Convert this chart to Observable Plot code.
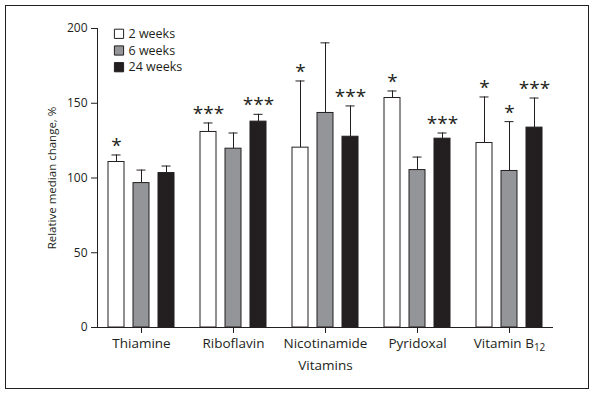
<!DOCTYPE html>
<html>
<head>
<meta charset="utf-8">
<script src="https://cdn.jsdelivr.net/npm/d3@7"></script>
<script src="https://cdn.jsdelivr.net/npm/@observablehq/plot@0.6"></script>
<style>
  body { margin: 0; background: white; }
  #wrap { position: relative; width: 594px; height: 395px; }
  #border { position: absolute; left: 5px; top: 5px; width: 582px; height: 382px; border: 1px solid #231f20; pointer-events: none; }
</style>
</head>
<body>
<div id="wrap"><div id="border"></div></div>
<script>
const categories = ["Thiamine", "Riboflavin", "Nicotinamide", "Pyridoxal", "Vitamin B12"];
const series = ["2 weeks", "6 weeks", "24 weeks"];
const colors = ["#ffffff", "#939598", "#231f20"];

const values2w  = [110.7, 130.8, 120.3, 153.5, 123.4];
const values6w  = [96.6, 119.6, 143.5, 105.3, 104.7];
const values24w = [103.3, 137.7, 127.6, 126.3, 133.7];

const upper2w  = [115.4, 136.8, 164.9, 158.2, 154.2];
const upper6w  = [105.3, 130.1, 190.4, 114.0, 137.7];
const upper24w = [108.0, 142.6, 148.2, 130.1, 153.5];

const stars2w  = ["*", "***", "*", "*", "*"];
const stars6w  = ["", "", "", "", "*"];
const stars24w = ["", "***", "***", "***", "***"];

const yTicks = [0, 50, 100, 150, 200];
const yLabel = "Relative median change, %";
const xLabel = "Vitamins";

const valueSets = [values2w, values6w, values24w];
const upperSets = [upper2w, upper6w, upper24w];
const starSets = [stars2w, stars6w, stars24w];

const tables = series.map((s, i) => categories.map((c, j) => ({
  cat: c, series: s, value: valueSets[i][j], upper: upperSets[i][j], stars: starSets[i][j]
})));

const ink = "#231f20";
const slot = 25;      // px between bars within a group

const marks = [];
tables.forEach((data, i) => {
  const off = (i - 1) * slot;
  marks.push(Plot.ruleX(data, {x: "cat", y1: "value", y2: "upper", dx: off, stroke: ink, strokeWidth: 1}));
  marks.push(Plot.tickY(data, {x: "cat", y: "upper", stroke: ink, strokeWidth: 1,
    insetLeft: i * slot + 3.5, insetRight: (2 - i) * slot + 3.5}));
  marks.push(Plot.barY(data, {x: "cat", y: "value", fill: colors[i], stroke: ink, strokeWidth: 1,
    insetLeft: i * slot, insetRight: (2 - i) * slot}));
  marks.push(Plot.text(data.filter(d => d.stars), {x: "cat", y: "upper", text: "stars", dx: off, dy: -3,
    lineAnchor: "bottom", fontSize: 19, fill: ink}));
});

// legend
series.forEach((s, i) => {
  marks.push(Plot.dot([s], {frameAnchor: "top-left", dx: 21.5, dy: 5.3 + 16.7 * i, symbol: "square", r: 5.2,
    fill: colors[i], stroke: ink, strokeWidth: 1}));
  marks.push(Plot.text([s], {frameAnchor: "top-left", dx: 31, dy: 5.3 + 16.7 * i, text: d => d,
    textAnchor: "start", lineAnchor: "middle", fontSize: 12.5, fill: ink}));
});

marks.push(Plot.ruleY([0], {stroke: ink, strokeWidth: 1}));
marks.push(Plot.frame({anchor: "left", stroke: ink, strokeWidth: 1}));
marks.push(Plot.axisY({ticks: yTicks, tickSize: 6, tickPadding: 4, label: null, fontSize: 12}));
marks.push(Plot.text([yLabel], {frameAnchor: "left", rotate: -90, dx: -45, text: d => d,
  textAnchor: "middle", lineAnchor: "middle", fontSize: 11.5, fill: ink}));
marks.push(Plot.axisX({tickSize: 6, tickPadding: 5, label: xLabel, labelAnchor: "center", labelOffset: 42,
  labelArrow: "none", fontSize: 13.5}));

const chart = Plot.plot({
  width: 594,
  height: 395,
  marginLeft: 97,
  marginRight: 41,
  marginTop: 28,
  marginBottom: 68,
  style: {fontFamily: "'Open Sans', sans-serif", fontSize: "12px", color: ink, background: "transparent"},
  x: {domain: categories, paddingInner: 0.288, paddingOuter: 0.1},
  y: {domain: [0, 200]},
  marks
});

// subscript for B12
d3.select(chart).selectAll("text").each(function() {
  const t = d3.select(this);
  if (this.childElementCount === 0 && t.text() === "Vitamin B12") {
    t.text("Vitamin B");
    t.append("tspan").attr("dy", "0.3em").attr("font-size", "10px").text("12");
  }
});

document.getElementById("wrap").appendChild(chart);
</script>
</body>
</html>
